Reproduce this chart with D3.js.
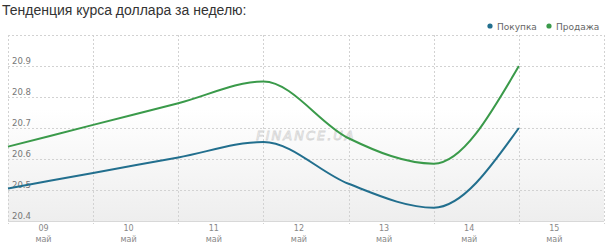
<!DOCTYPE html>
<html><head><meta charset="utf-8">
<script src="https://cdn.jsdelivr.net/npm/d3@7"></script>
<style>
html,body{margin:0;padding:0;background:#fff;}
svg{display:block;}
</style></head>
<body>
<svg id="chart" width="610" height="248"></svg>
<script>
const title = "Тенденция курса доллара за неделю:";
const days = ["2015-05-09","2015-05-10","2015-05-11","2015-05-12","2015-05-13","2015-05-14","2015-05-15"];
const dayLabels = ["09","10","11","12","13","14","15"];
const monthLabel = "май";
const buy = [20.505, 20.555, 20.605, 20.655, 20.52, 20.443, 20.70];
const sell = [20.64, 20.71, 20.78, 20.85, 20.667, 20.585, 20.90];
const yTicks = [20.4, 20.5, 20.6, 20.7, 20.8, 20.9, 21.0];
const seriesNames = ["Покупка", "Продажа"];
const colors = ["#226f8e", "#3a9a4a"];

const parse = d3.timeParse("%Y-%m-%d");
const dates = days.map(parse);
const endDate = d3.timeDay.offset(dates[dates.length-1], 1);

const svg = d3.select("#chart");
const x = d3.scaleTime().domain([dates[0], endDate]).range([8, 604]);
const y = d3.scaleLinear().domain([20.4, 21.0]).range([221, 35]);

// background gradient
const defs = svg.append("defs");
const grad = defs.append("linearGradient").attr("id","bg").attr("x1",0).attr("y1",0).attr("x2",0).attr("y2",1);
grad.append("stop").attr("offset","0%").attr("stop-color","#ffffff");
grad.append("stop").attr("offset","40%").attr("stop-color","#ffffff");
grad.append("stop").attr("offset","100%").attr("stop-color","#eeeeee");
svg.append("rect").attr("x", x.range()[0]).attr("y", y(21.0))
  .attr("width", x.range()[1]-x.range()[0]).attr("height", y(20.4)-y(21.0))
  .attr("fill","url(#bg)");

// title
svg.append("text").attr("x",2).attr("y",15)
  .attr("font-family","'Liberation Sans', Arial, sans-serif").attr("font-size",14)
  .attr("fill","#333").text(title);

// horizontal grid
const gridDates = dates.concat([endDate]);
svg.append("g").selectAll("line").data(yTicks.filter(v => v > 20.4)).join("line")
  .attr("x1", x.range()[0]).attr("x2", x.range()[1])
  .attr("y1", d => y(d)+0.5).attr("y2", d => y(d)+0.5)
  .attr("stroke","#d2d2d2").attr("stroke-dasharray","2,2");
// vertical grid
svg.append("g").selectAll("line").data(gridDates).join("line")
  .attr("x1", d => Math.round(x(d))+0.5).attr("x2", d => Math.round(x(d))+0.5)
  .attr("y1", y(21.0)).attr("y2", y(20.4)+3)
  .attr("stroke","#d2d2d2").attr("stroke-dasharray","2,2");
// bottom axis line
svg.append("line").attr("x1", x.range()[0]).attr("x2", x.range()[1])
  .attr("y1", y(20.4)+0.5).attr("y2", y(20.4)+0.5).attr("stroke","#d8d8d8");

// y labels
svg.append("g").selectAll("text").data(yTicks.filter(v => v < 21.0)).join("text")
  .attr("x", 12).attr("y", d => y(d)-2.5)
  .attr("font-family","'DejaVu Sans', Verdana, sans-serif").attr("font-size",8.5)
  .attr("fill","#777").text(d => d.toFixed(1));

// x labels
const xl = svg.append("g").selectAll("g").data(dates).join("g")
  .attr("transform", d => `translate(${x(d3.timeHour.offset(d, 10.5))},0)`);
xl.append("text").attr("y",230.5).attr("text-anchor","middle")
  .attr("font-family","'DejaVu Sans', Verdana, sans-serif").attr("font-size",8)
  .attr("fill","#888").text((d,i) => dayLabels[i]);
xl.append("text").attr("y",241.5).attr("text-anchor","middle")
  .attr("font-family","'DejaVu Sans', Verdana, sans-serif").attr("font-size",8)
  .attr("fill","#888").text(monthLabel);

// watermark
svg.append("text").attr("x", 306).attr("y", 140).attr("text-anchor","middle")
  .attr("font-family","'DejaVu Sans', sans-serif").attr("font-size",13)
  .attr("font-style","italic").attr("letter-spacing",2)
  .attr("fill","none").attr("stroke","#d6d6d6").attr("stroke-width",0.8).text("FINANCE.UA");

// lines
const line = d3.line().x((d,i) => x(dates[i])).y(d => y(d)).curve(d3.curveMonotoneX);
[buy, sell].forEach((s, k) => {
  svg.append("path").attr("d", line(s)).attr("fill","none")
    .attr("stroke", colors[k]).attr("stroke-width",2).attr("stroke-linejoin","round");
});

// legend
const legX = [490, 549];
seriesNames.forEach((n, k) => {
  svg.append("circle").attr("cx", legX[k]).attr("cy", 26).attr("r", 2.6).attr("fill", colors[k]);
  svg.append("text").attr("x", legX[k]+7).attr("y", 29.5)
    .attr("font-family","'DejaVu Sans', Verdana, sans-serif").attr("font-size",9)
    .attr("fill","#666").text(n);
});
</script>
</body></html>
